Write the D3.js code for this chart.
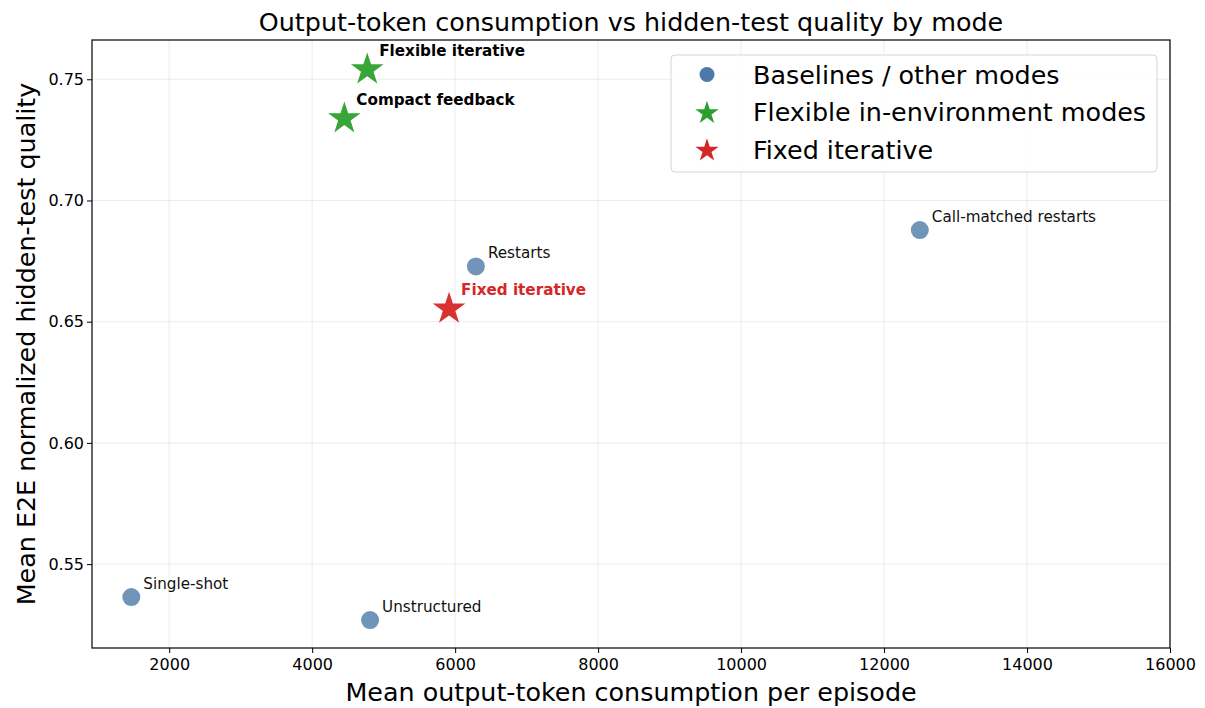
<!DOCTYPE html>
<html>
<head>
<meta charset="utf-8">
<script src="https://cdn.jsdelivr.net/npm/d3@7"></script>
<style>
  body { margin: 0; background: #fff; }
  svg { font-family: "DejaVu Sans", sans-serif; }
</style>
</head>
<body>
<svg id="chart" width="1205" height="708"></svg>
<script>
// data
const modes = ['Single-shot', 'Unstructured', 'Restarts', 'Call-matched restarts', 'Fixed iterative', 'Flexible iterative', 'Compact feedback'];
const tokens = [1470, 4810, 6290, 12500, 5915, 4770, 4450];
const quality = [0.5364, 0.5269, 0.6728, 0.6878, 0.6557, 0.7544, 0.7342];
const groups = ['base', 'base', 'base', 'base', 'fixed', 'flex', 'flex'];
const xTicks = [2000, 4000, 6000, 8000, 10000, 12000, 14000, 16000];
const yTicks = [0.55, 0.60, 0.65, 0.70, 0.75];
const legendLabels = ['Baselines / other modes', 'Flexible in-environment modes', 'Fixed iterative'];
const legendGroups = ['base', 'flex', 'fixed'];

const colors = { base: '#4e79a7', flex: '#2ca02c', fixed: '#d62728' };

const svg = d3.select('#chart');
const m = { left: 92, right: 1170, top: 40, bottom: 648 };
const bigFont = 25.4;

const x = d3.scaleLinear().domain([920, 16000]).range([m.left, m.right]);
const y = d3.scaleLinear().domain([0.5154, 0.7662]).range([m.bottom, m.top]);

// grid
svg.append('g').selectAll('line.gx').data(xTicks).join('line')
  .attr('x1', d => x(d)).attr('x2', d => x(d))
  .attr('y1', m.top).attr('y2', m.bottom)
  .attr('stroke', '#b0b0b0').attr('stroke-opacity', 0.3).attr('stroke-width', 0.8);
svg.append('g').selectAll('line.gy').data(yTicks).join('line')
  .attr('x1', m.left).attr('x2', m.right)
  .attr('y1', d => y(d)).attr('y2', d => y(d))
  .attr('stroke', '#b0b0b0').attr('stroke-opacity', 0.3).attr('stroke-width', 0.8);

// axes
const xAxis = svg.append('g').attr('transform', `translate(0,${m.bottom})`)
  .call(d3.axisBottom(x).tickValues(xTicks).tickFormat(d3.format('d')).tickSize(5).tickSizeOuter(0));
const yAxis = svg.append('g').attr('transform', `translate(${m.left},0)`)
  .call(d3.axisLeft(y).tickValues(yTicks).tickFormat(d3.format('.2f')).tickSize(5).tickSizeOuter(0));
[xAxis, yAxis].forEach(a => {
  a.select('.domain').remove();
  a.selectAll('.tick line').attr('stroke', '#000').attr('stroke-width', 1);
  a.selectAll('.tick text').attr('font-size', 16).attr('fill', '#000')
    .attr('font-family', '"DejaVu Sans", sans-serif');
});
xAxis.selectAll('.tick text').attr('dy', '0.9em').attr('y', 8);
yAxis.selectAll('.tick text').attr('x', -8);

svg.append('rect')
  .attr('x', m.left).attr('y', m.top)
  .attr('width', m.right - m.left).attr('height', m.bottom - m.top)
  .attr('fill', 'none').attr('stroke', '#000').attr('stroke-width', 1.2);

// labels
svg.append('text').attr('x', (m.left + m.right) / 2).attr('y', 31)
  .attr('text-anchor', 'middle').attr('font-size', bigFont)
  .text('Output-token consumption vs hidden-test quality by mode');
svg.append('text').attr('x', (m.left + m.right) / 2).attr('y', 701)
  .attr('text-anchor', 'middle').attr('font-size', bigFont)
  .text('Mean output-token consumption per episode');
svg.append('text')
  .attr('transform', `translate(35,${(m.top + m.bottom) / 2}) rotate(-90)`)
  .attr('text-anchor', 'middle').attr('font-size', bigFont)
  .text('Mean E2E normalized hidden-test quality');

const star = d3.symbol().type(d3.symbolStar);
const pts = modes.map((name, i) => ({ name, tx: tokens[i], q: quality[i], g: groups[i] }));

// points
const marks = svg.append('g');
pts.forEach(p => {
  if (p.g === 'base') {
    marks.append('circle').attr('cx', x(p.tx)).attr('cy', y(p.q)).attr('r', 9)
      .attr('fill', colors.base).attr('fill-opacity', 0.8);
  } else {
    marks.append('path').attr('d', star.size(330)())
      .attr('transform', `translate(${x(p.tx)},${y(p.q) + 1})`)
      .attr('fill', colors[p.g]).attr('fill-opacity', 0.95);
  }
});

// annotations
pts.forEach(p => {
  const t = svg.append('text')
    .attr('x', x(p.tx) + 12)
    .attr('font-size', 15.2)
    .text(p.name);
  if (p.g === 'base') {
    t.attr('y', y(p.q) - 8).attr('fill', '#111');
  } else {
    t.attr('y', y(p.q) - 13).attr('font-weight', 'bold')
      .attr('fill', p.g === 'fixed' ? colors.fixed : '#000');
  }
});

// legend
const lg = svg.append('g');
lg.append('rect').attr('x', 671).attr('y', 55).attr('width', 486).attr('height', 117)
  .attr('rx', 4).attr('fill', '#fff').attr('fill-opacity', 0.85)
  .attr('stroke', '#d5d5d5').attr('stroke-width', 1);
legendLabels.forEach((lab, i) => {
  const cy = 74.5 + i * 37.5;
  const g = legendGroups[i];
  if (g === 'base') {
    lg.append('circle').attr('cx', 707).attr('cy', cy).attr('r', 7.5).attr('fill', colors.base);
  } else {
    lg.append('path').attr('d', star.size(170)()).attr('transform', `translate(707,${cy + 1})`)
      .attr('fill', colors[g]);
  }
  lg.append('text').attr('x', 753).attr('y', cy + 9).attr('font-size', bigFont).text(lab);
});
</script>
</body>
</html>
